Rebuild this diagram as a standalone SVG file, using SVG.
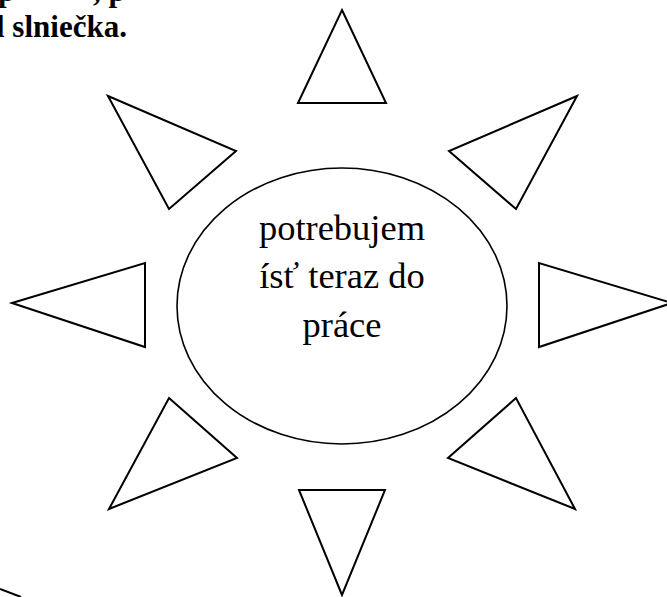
<svg xmlns="http://www.w3.org/2000/svg" width="667" height="597" viewBox="0 0 667 597">
<style>
.ray{fill:none;stroke:#000;stroke-width:2;stroke-linejoin:miter}
.sun{fill:none;stroke:#000;stroke-width:1.6}
.hd{font-family:"Liberation Serif","Times New Roman",serif;font-weight:bold;font-size:31px;fill:#000}
.lbl{font-family:"Liberation Serif","Times New Roman",serif;font-size:36.5px;fill:#000;text-anchor:middle}
</style>
<rect width="667" height="597" fill="#fff"/>
<g id="heading">
<text class="hd" x="-2" y="1">p</text>
<text class="hd" x="93" y="1">, p</text>
<text class="hd" x="-4" y="37">l slniečka.</text>
</g>
<g id="rays">
<polygon id="ray-top" class="ray" points="342,10 386,103 298,103"/>
<polygon id="ray-top-left" class="ray" points="108,96 236,151 169,209"/>
<polygon id="ray-top-right" class="ray" points="577,96 449,151 516,209"/>
<polygon id="ray-left" class="ray" points="12,303 145,263 145,347"/>
<polygon id="ray-right" class="ray" points="672,303 539,263 539,347"/>
<polygon id="ray-bottom-left" class="ray" points="169,398 237,458 109,509"/>
<polygon id="ray-bottom-right" class="ray" points="516,398 448,458 575,509"/>
<polygon id="ray-bottom" class="ray" points="342,595 299,490 385,490"/>
</g>
<g id="center">
<ellipse class="sun" cx="342" cy="306" rx="165" ry="138"/>
<text class="lbl" x="342" y="240">potrebujem</text>
<text class="lbl" x="342" y="288">ísť teraz do</text>
<text class="lbl" x="342" y="337">práce</text>
</g>
<line class="ray" x1="0" y1="589" x2="21" y2="597"/>
</svg>
